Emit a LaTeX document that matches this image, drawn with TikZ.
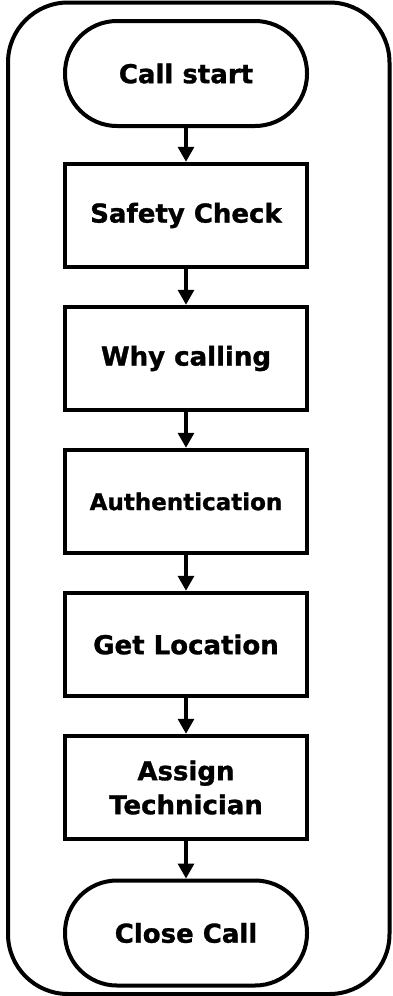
\documentclass[tikz,border=0pt]{standalone}
\usepackage{fontspec}
\setmainfont{DejaVu Sans}[BoldFeatures={FakeBold=1.2}]
\usetikzlibrary{arrows.meta,positioning}

\tikzset{
  stepbox/.style={draw=black, line width=4.5pt, fill=white, minimum width=242pt,
    minimum height=103pt, inner sep=2pt, align=center,
    font=\bfseries\fontsize{26}{34}\selectfont},
  terminal/.style={stepbox, rounded corners=52pt, minimum height=105pt, line width=4pt},
  flow/.style={line width=3.2pt, -{Triangle[width=16pt,length=15pt]}},
  frame/.style={draw=black, line width=4pt, rounded corners=60pt}
}

\begin{document}
\begin{tikzpicture}[x=1pt,y=1pt]
  \useasboundingbox (0,0) rectangle (393,-996);

  % outer container
  \draw[frame] (8,-2.5) rectangle (389.5,-994);

  % process steps, top to bottom
  \node[terminal] (start)  at (186,-73.5)  {Call start};
  \node[stepbox]  (safety) at (186,-215.5) {Safety Check};
  \node[stepbox]  (why)    at (186,-358.5) {Why calling};
  \node[stepbox, font=\bfseries\fontsize{23}{30}\selectfont]
                  (auth)   at (186,-501.5) {Authentication};
  \node[stepbox]  (loc)    at (186,-644.5) {Get Location};
  \node[stepbox]  (assign) at (186,-787.5) {Assign\\Technician};
  \node[terminal] (close)  at (186,-933)   {Close Call};

  % connectors
  \draw[flow] (start)  -- (safety);
  \draw[flow] (safety) -- (why);
  \draw[flow] (why)    -- (auth);
  \draw[flow] (auth)   -- (loc);
  \draw[flow] (loc)    -- (assign);
  \draw[flow] (assign) -- (close);
\end{tikzpicture}
\end{document}
